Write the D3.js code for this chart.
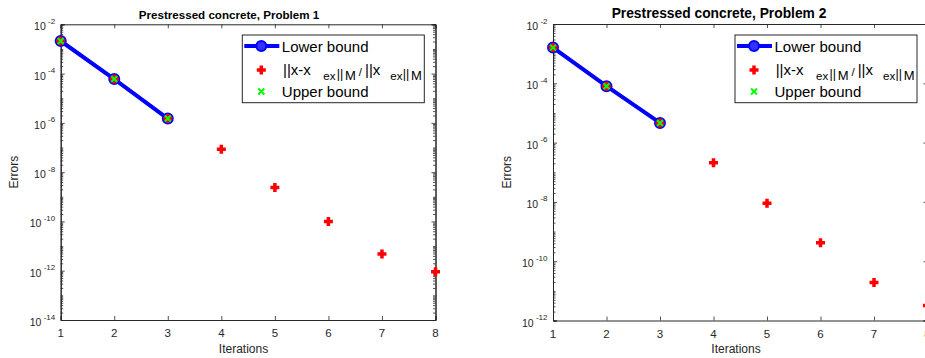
<!DOCTYPE html>
<html><head><meta charset="utf-8">
<script src="https://cdn.jsdelivr.net/npm/d3@7"></script>
<style>
html,body{margin:0;padding:0;background:#fff;overflow:hidden}
svg{display:block;font-family:"Liberation Sans",Arial,Helvetica,sans-serif}
</style></head>
<body>
<svg id="chart" width="925" height="358"></svg>
<script>
// ---- data ----
const iterations = [1, 2, 3, 4, 5, 6, 7, 8];
const p1Lower = [2.1e-3, 6.0e-5, 1.5e-6];
const p1Upper = [2.1e-3, 6.0e-5, 1.5e-6];
const p1Error = [2.1e-3, 6.0e-5, 1.5e-6, 8.5e-8, 2.4e-9, 1.0e-10, 4.8e-12, 9.0e-13];
const p2Lower = [1.6e-3, 8.0e-5, 4.6e-6];
const p2Upper = [1.6e-3, 8.0e-5, 4.6e-6];
const p2Error = [1.6e-3, 8.0e-5, 4.6e-6, 2.1e-7, 9.0e-9, 4.2e-10, 1.9e-11, 3.2e-12];
const p1YExponents = [-2, -4, -6, -8, -10, -12, -14];
const p2YExponents = [-2, -4, -6, -8, -10, -12];
const xTickLabels = ["1", "2", "3", "4", "5", "6", "7", "8"];
const legendLabels = ["Lower bound", "||x-x_ex||_M / ||x_ex||_M", "Upper bound"];
const titles = ["Prestressed concrete, Problem 1", "Prestressed concrete, Problem 2"];

const svg = d3.select("#chart");
const AX = "#262626";

function panel(cfg) {
  const g = svg.append("g");
  const x = d3.scaleLinear().domain([1, 8]).range([cfg.left, cfg.right]);
  const yMinExp = d3.min(cfg.yExp), yMaxExp = d3.max(cfg.yExp);
  const y = d3.scaleLog().domain([Math.pow(10, yMinExp), Math.pow(10, yMaxExp)]).range([cfg.bottom, cfg.top]);

  const minor = [];
  for (let d = yMinExp; d < yMaxExp; d++) for (let k = 2; k <= 9; k++) minor.push(k * Math.pow(10, d));
  for (let d = yMinExp; d <= yMaxExp; d++) if (!cfg.yExp.includes(d)) minor.push(Math.pow(10, d));
  const major = cfg.yExp.map(e => Math.pow(10, e));

  const ax = g.append("g");
  ax.append("g").attr("transform", `translate(${cfg.left},0)`).call(d3.axisLeft(y).tickValues(major).tickSize(-4).tickFormat(""));
  ax.append("g").attr("transform", `translate(${cfg.left},0)`).call(d3.axisLeft(y).tickValues(minor).tickSize(-2.5).tickFormat(""));
  ax.append("g").attr("transform", `translate(${cfg.right},0)`).call(d3.axisRight(y).tickValues(major).tickSize(-4).tickFormat(""));
  ax.append("g").attr("transform", `translate(${cfg.right},0)`).call(d3.axisRight(y).tickValues(minor).tickSize(-2.5).tickFormat(""));
  ax.append("g").attr("transform", `translate(0,${cfg.bottom})`).call(d3.axisBottom(x).tickValues(iterations).tickSize(-4).tickFormat(""));
  ax.append("g").attr("transform", `translate(0,${cfg.top})`).call(d3.axisTop(x).tickValues(iterations).tickSize(-4).tickFormat(""));
  ax.selectAll("path.domain").attr("stroke", AX).attr("stroke-width", 1);
  ax.selectAll(".tick line").attr("stroke", AX).attr("stroke-width", 0.8);

  g.selectAll("text.xt").data(iterations).enter().append("text")
    .attr("x", d => x(d)).attr("y", cfg.bottom + 17)
    .attr("text-anchor", "middle").attr("font-size", 11.5).attr("fill", AX)
    .text((d, i) => xTickLabels[i]);

  cfg.yExp.forEach(e => {
    const yy = y(Math.pow(10, e));
    g.append("text").attr("x", cfg.left - 5.5).attr("y", yy - 0.5)
      .attr("text-anchor", "end").attr("font-size", 8).attr("fill", AX).text("-" + Math.abs(e))
      .each(function () {
        const w = this.getComputedTextLength();
        g.append("text").attr("x", cfg.left - 5.5 - w - 2.3).attr("y", yy + 6)
          .attr("text-anchor", "end").attr("font-size", 10.5).attr("fill", AX).text("10");
      });
  });

  g.append("text").attr("x", cfg.xLabelX).attr("y", 353).attr("text-anchor", "middle")
    .attr("font-size", 12).attr("fill", AX).text("Iterations");
  g.append("text").attr("transform", `translate(${cfg.yLabelX},${(cfg.top + cfg.bottom) / 2}) rotate(-90)`)
    .attr("text-anchor", "middle").attr("font-size", 12).attr("fill", AX).text("Errors");
  g.append("text").attr("x", cfg.titleX).attr("y", cfg.titleY).attr("text-anchor", "middle")
    .attr("font-size", cfg.titleSize).attr("font-weight", "bold").attr("fill", "#000").text(cfg.title);

  const lowerPts = cfg.lower.map((v, i) => [iterations[i], v]);
  const line = d3.line().x(d => x(d[0])).y(d => y(d[1]));
  g.append("path").datum(lowerPts).attr("d", line).attr("fill", "none")
    .attr("stroke", "#0000ff").attr("stroke-width", 4);
  g.selectAll("circle.lb").data(lowerPts).enter().append("circle")
    .attr("cx", d => x(d[0])).attr("cy", d => y(d[1])).attr("r", 5)
    .attr("fill", "#3333ff").attr("stroke", "#0000ff").attr("stroke-width", 2);
  const plus = (sel, cx, cy) => sel.append("path")
    .attr("d", `M${cx - 4.5},${cy}H${cx + 4.5}M${cx},${cy - 4.5}V${cy + 4.5}`)
    .attr("stroke", "#ff0000").attr("stroke-width", 3.5);
  const cross = (sel, cx, cy) => sel.append("path")
    .attr("d", `M${cx - 3},${cy - 3}L${cx + 3},${cy + 3}M${cx - 3},${cy + 3}L${cx + 3},${cy - 3}`)
    .attr("stroke", "#00ff00").attr("stroke-width", 2);
  cfg.err.forEach((v, i) => plus(g, x(iterations[i]), y(v)));
  cfg.upper.forEach((v, i) => cross(g, x(iterations[i]), y(v)));

  // legend
  const L = cfg.legLeft, T = 35, W = 182, H = 67.7;
  const lg = g.append("g");
  lg.append("rect").attr("x", L).attr("y", T).attr("width", W).attr("height", H)
    .attr("fill", "#fff").attr("stroke", AX).attr("stroke-width", 1);
  const mx = L + 19;
  lg.append("line").attr("x1", L + 2).attr("x2", L + 37).attr("y1", 46).attr("y2", 46)
    .attr("stroke", "#0000ff").attr("stroke-width", 4);
  lg.append("circle").attr("cx", mx).attr("cy", 46).attr("r", 5)
    .attr("fill", "#3333ff").attr("stroke", "#0000ff").attr("stroke-width", 2);
  plus(lg, mx, 70);
  cross(lg, mx, 91.5);
  const tx = L + 39.5;
  lg.append("text").attr("x", tx).attr("y", 51.5).attr("font-size", 15).attr("fill", "#000").text(legendLabels[0]);
  lg.append("text").attr("x", tx).attr("y", 96.5).attr("font-size", 15).attr("fill", "#000").text(legendLabels[2]);
  const pieces = [["||x-x", 40.7, 75, 15], ["ex", 81, 80, 11.5], ["||", 94.4, 78, 12.5], ["M", 102.7, 80, 13],
    ["/", 116.5, 76, 11.5], ["||x", 122.7, 75, 15], ["ex", 148, 80, 11.5], ["||", 160.4, 78, 12.5], ["M", 168.7, 80, 13]];
  pieces.forEach(([s, dx, by, fs]) => lg.append("text").attr("x", L + dx).attr("y", by)
    .attr("font-size", fs).attr("fill", "#000").text(s));
}

panel({left: 60.7, right: 435.5, top: 24.3, bottom: 320, yExp: p1YExponents,
  lower: p1Lower, upper: p1Upper, err: p1Error, title: titles[0], titleX: 229, titleY: 19, titleSize: 11.6,
  xLabelX: 243.5, yLabelX: 18, legLeft: 242.3});
panel({left: 553, right: 927.5, top: 24, bottom: 320.5, yExp: p2YExponents,
  lower: p2Lower, upper: p2Upper, err: p2Error, title: titles[1], titleX: 719, titleY: 18, titleSize: 13.8,
  xLabelX: 736, yLabelX: 511, legLeft: 735});
</script>
</body></html>
